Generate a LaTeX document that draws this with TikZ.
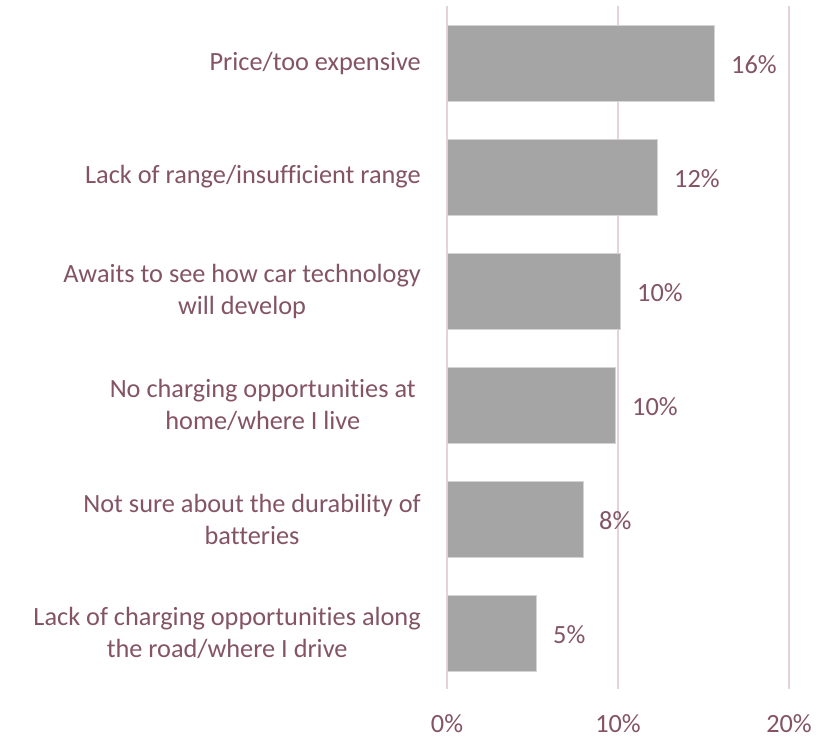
\documentclass[tikz,border=0pt]{standalone}
\usepackage{fontspec}
\setmainfont{Carlito}[Ligatures=NoCommon]
\definecolor{txt}{HTML}{845465}
\definecolor{grid}{HTML}{E4D4DA}
\definecolor{barfill}{HTML}{A5A5A5}
\definecolor{baredge}{HTML}{D4D4D4}
\begin{document}
\begin{tikzpicture}[x=1pt,y=-1pt,
  cat/.style={anchor=east,align=center,inner sep=0pt,text=txt,font=\fontsize{26.3}{32}\selectfont},
  val/.style={anchor=base west,inner sep=0pt,text=txt,font=\fontsize{26.3}{32}\selectfont},
  tick/.style={anchor=base,inner sep=0pt,text=txt,font=\fontsize{26.3}{32}\selectfont},
  gridline/.style={draw=grid,line width=2pt},
  barbox/.style={fill=barfill,draw=baredge,line width=0.7pt}]
\path[use as bounding box,fill=white] (0,0) rectangle (836,737);
% gridlines
\coordinate (g0t) at (447,6); \coordinate (g0b) at (447,689);
\coordinate (g1t) at (618,6); \coordinate (g1b) at (618,689);
\coordinate (g2t) at (789,6); \coordinate (g2b) at (789,689);
\draw[gridline] (g0t) -- (g0b);
\draw[gridline] (g1t) -- (g1b);
\draw[gridline] (g2t) -- (g2b);
% bars
\node[barbox,inner sep=0pt,anchor=north west,minimum width=267pt,minimum height=76pt] (b1) at (447,25) {};
\node[barbox,inner sep=0pt,anchor=north west,minimum width=210pt,minimum height=76pt] (b2) at (447,139) {};
\node[barbox,inner sep=0pt,anchor=north west,minimum width=173pt,minimum height=76pt] (b3) at (447,253) {};
\node[barbox,inner sep=0pt,anchor=north west,minimum width=168pt,minimum height=76pt] (b4) at (447,367) {};
\node[barbox,inner sep=0pt,anchor=north west,minimum width=136pt,minimum height=76pt] (b5) at (447,481) {};
\node[barbox,inner sep=0pt,anchor=north west,minimum width=89pt,minimum height=76pt] (b6) at (447,595) {};
% values
\node[val] (v1) at (731,73) {16\%};
\node[val] (v2) at (674,187) {12\%};
\node[val] (v3) at (637,301) {10\%};
\node[val] (v4) at (632,415) {10\%};
\node[val] (v5) at (599,529) {8\%};
\node[val] (v6) at (553,643) {5\%};
% categories
\node[cat] (c1) at (421,63) {Price/too expensive};
\node[cat] (c2) at (421,177) {Lack of range/insufficient range};
\node[cat] (c3) at (421,291) {Awaits to see how car technology\\will develop};
\node[cat] (c4) at (416,405) {No charging opportunities at\\home/where I live};
\node[cat] (c5) at (421,519) {Not sure about the durability of\\batteries};
\node[cat] (c6) at (421,633) {Lack of charging opportunities along\\the road/where I drive};
% axis
\node[tick] (t0) at (447,732) {0\%};
\node[tick] (t1) at (618,732) {10\%};
\node[tick] (t2) at (789,732) {20\%};
\end{tikzpicture}
\end{document}
